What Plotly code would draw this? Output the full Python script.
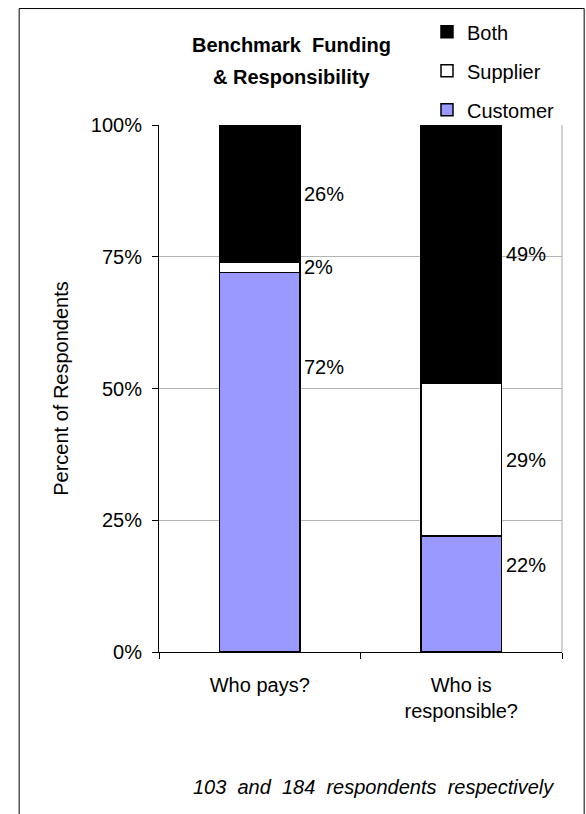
import plotly.graph_objects as go

categories = ["Who pays?", "Who is<br>responsible?"]
series_names = ["Customer", "Supplier", "Both"]
customer = [72, 22]
supplier = [2, 29]
both = [26, 49]
series_values = [customer, supplier, both]
series_colors = ["#9999FF", "#FFFFFF", "#000000"]
legend_ranks = [3, 2, 1]
label_frac = [0.75, 0.5, 0.5]   # where along each segment its label sits
y_ticks = [0, 25, 50, 75, 100]
y_tick_labels = ["0%", "25%", "50%", "75%", "100%"]

FONT = "Liberation Sans, Arial, sans-serif"

fig = go.Figure()
for name, vals, col, rank in zip(series_names, series_values, series_colors, legend_ranks):
    fig.add_trace(go.Bar(
        x=categories, y=vals, name=name, legendgroup=name, legendrank=rank,
        marker=dict(color=col, line=dict(color="black", width=1.5)),
        width=0.4,
    ))

# value labels to the right of each segment
base = [0] * len(categories)
for vals, frac in zip(series_values, label_frac):
    for i, v in enumerate(vals):
        fig.add_annotation(
            x=i + 0.2, y=base[i] + v * frac, xref="x", yref="y",
            text=f"{v}%", showarrow=False, xanchor="left", yanchor="middle",
            xshift=2, font=dict(family=FONT, size=20, color="black"))
        base[i] += v

# title lines
fig.add_annotation(x=0.33, y=1.151, xref="paper", yref="paper",
                   text="<b>Benchmark  Funding</b>", showarrow=False,
                   font=dict(family=FONT, size=20, color="black"),
                   xanchor="center", yanchor="middle")
fig.add_annotation(x=0.33, y=1.091, xref="paper", yref="paper",
                   text="<b>&amp; Responsibility</b>", showarrow=False,
                   font=dict(family=FONT, size=20, color="black"),
                   xanchor="center", yanchor="middle")
# footnote
fig.add_annotation(x=0.985, y=-0.257, xref="paper", yref="paper",
                   text="<i>103\u00a0 and\u00a0 184\u00a0 respondents\u00a0 respectively</i>",
                   showarrow=False, xanchor="right", yanchor="middle",
                   font=dict(family=FONT, size=20, color="black"))

# outer frame and right plot-area edge
fig.add_shape(type="rect", xref="paper", yref="paper",
              x0=-0.347, x1=1.055, y0=-0.4, y1=1.221,
              line=dict(color="black", width=1), layer="below")
fig.add_shape(type="line", xref="paper", yref="paper",
              x0=1, x1=1, y0=0, y1=1,
              line=dict(color="#a6a6a6", width=1), layer="below")

fig.update_layout(
    width=586, height=814,
    margin=dict(l=159, r=24, t=123, b=162),
    paper_bgcolor="white", plot_bgcolor="white",
    barmode="stack", bargap=0.6,
    font=dict(family=FONT, size=20, color="black"),
    showlegend=True,
    legend=dict(x=0.665, y=1.214, xanchor="left", yanchor="top",
                traceorder="grouped", tracegroupgap=10,
                font=dict(family=FONT, size=20, color="black"),
                bgcolor="rgba(0,0,0,0)"),
    xaxis=dict(showline=True, linecolor="black", linewidth=1,
               ticks="outside", ticklen=6, tickcolor="black",
               tickson="boundaries", showgrid=False,
               ticklabelstandoff=15, fixedrange=True),
    yaxis=dict(range=[0, 100], tickvals=y_ticks, ticktext=y_tick_labels,
               showline=True, linecolor="black", linewidth=1,
               ticks="outside", ticklen=6, tickcolor="black",
               showgrid=True, gridcolor="#b3b3b3", gridwidth=1,
               zeroline=False, ticklabelstandoff=6,
               title=dict(text="Percent of Respondents", standoff=16,
                          font=dict(family=FONT, size=20, color="black"))),
)

fig.write_html("out.html")
